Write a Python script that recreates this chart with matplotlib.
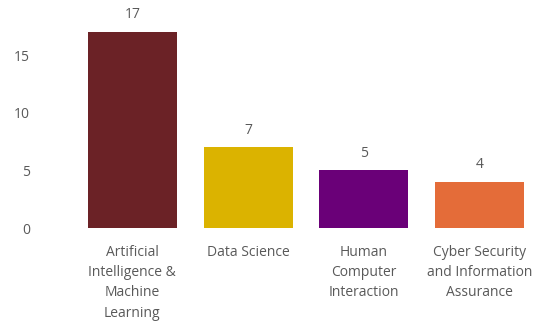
import matplotlib
matplotlib.use("Agg")
import matplotlib.pyplot as plt

categories = [
    "Artificial\nIntelligence &\nMachine\nLearning",
    "Data Science",
    "Human\nComputer\nInteraction",
    "Cyber Security\nand Information\nAssurance",
]
counts = [17, 7, 5, 4]
colors = ["#6B2226", "#DBB300", "#6A0078", "#E46C39"]
yticks = [0, 5, 10, 15]

plt.rcParams["font.family"] = ["Open Sans", "DejaVu Sans"]
text_color = "#595959"

fig = plt.figure(figsize=(5.39, 3.23), dpi=100)
ax = fig.add_axes([74.5 / 539, 1 - 228 / 323, 463 / 539, (228 - 20.5) / 323])

x = range(len(categories))
bars = ax.bar(x, counts, width=0.77, color=colors)

# value labels above bars
for bar, val in zip(bars, counts):
    ax.text(bar.get_x() + bar.get_width() / 2, val + 0.85, str(val),
            ha="center", va="bottom", fontsize=10, color=text_color, clip_on=False)

ax.set_xlim(-0.5, 3.5)
ax.set_ylim(0, 18)
ax.set_yticks(yticks)
ax.set_xticks(list(x))
ax.set_xticklabels(categories, fontsize=10, color=text_color, linespacing=1.48)
ax.tick_params(axis="y", labelsize=10, labelcolor=text_color, length=0, pad=32)
ax.tick_params(axis="x", length=0, pad=12)
for label in ax.get_yticklabels():
    label.set_horizontalalignment("right")

for spine in ax.spines.values():
    spine.set_visible(False)

fig.savefig("out.png", dpi=100)
